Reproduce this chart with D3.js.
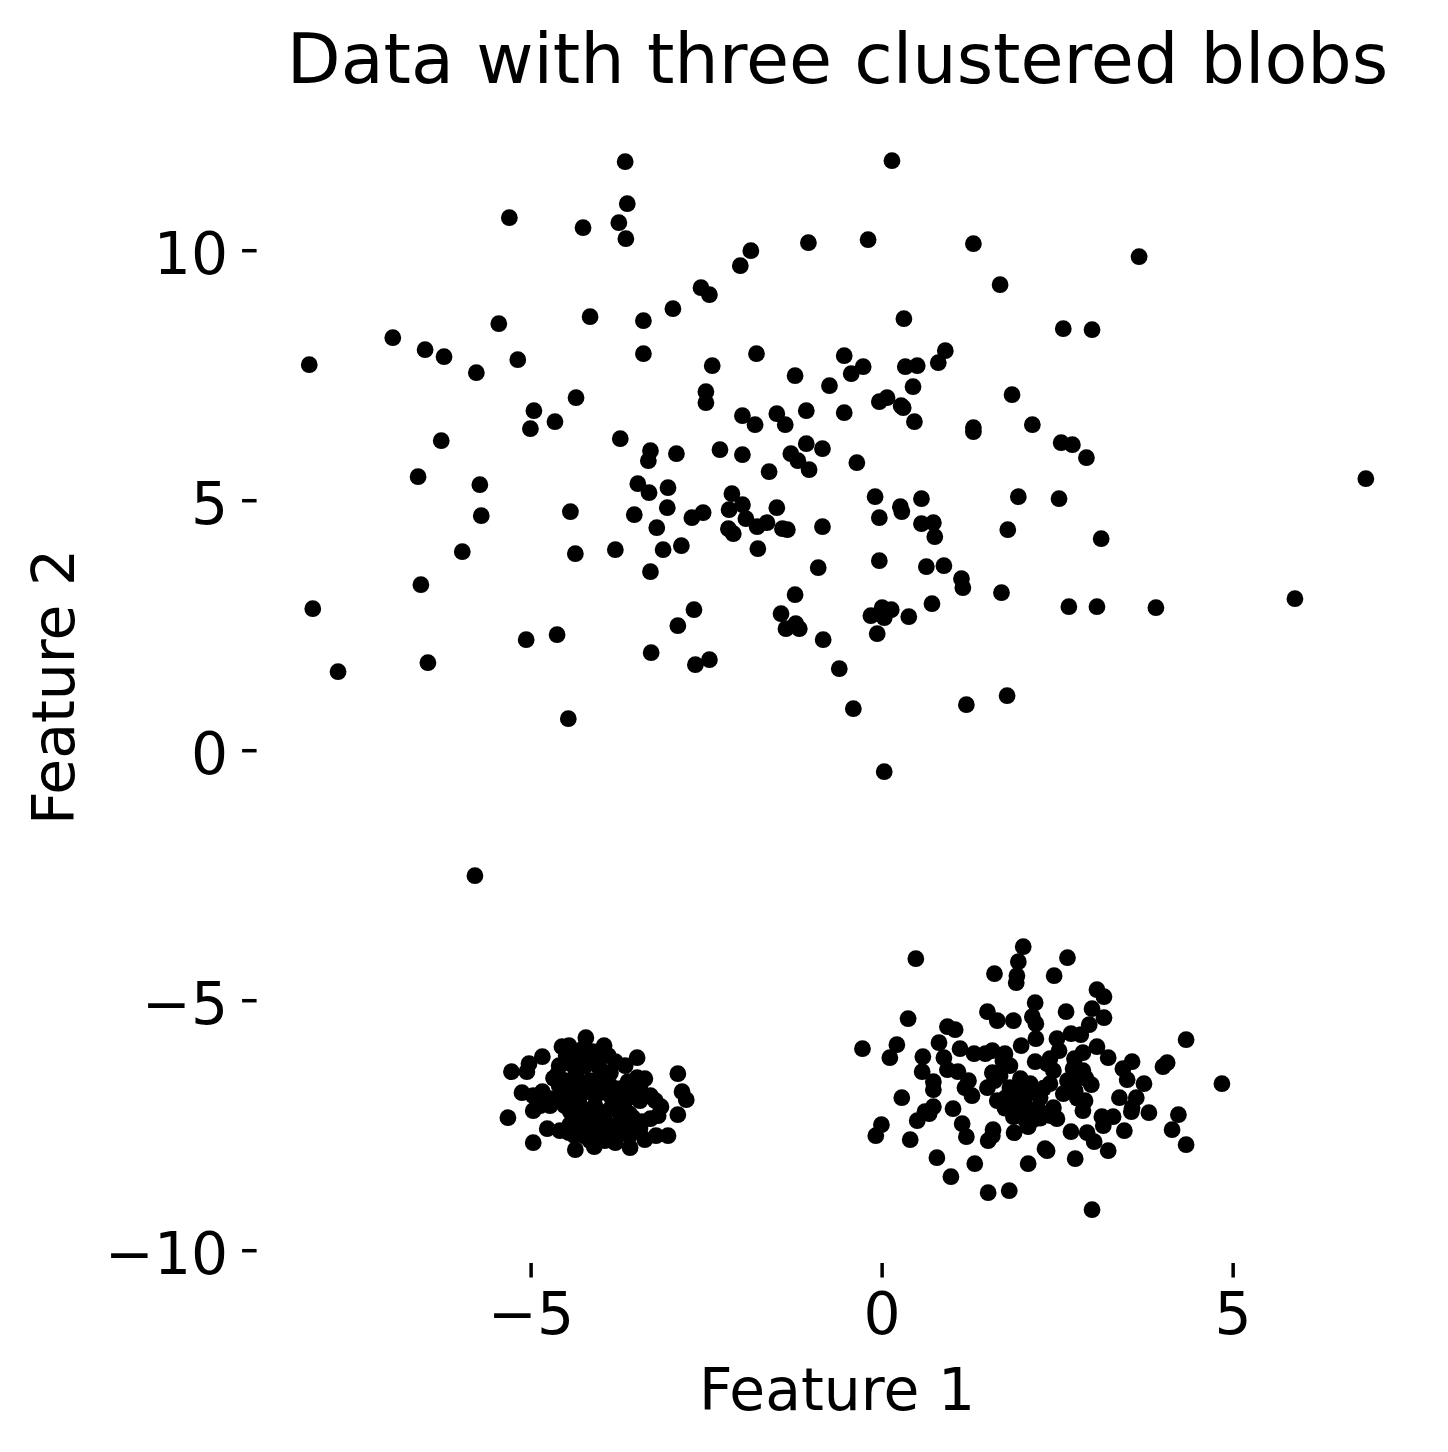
<!DOCTYPE html>
<html><head><meta charset="utf-8">
<script src="https://cdn.jsdelivr.net/npm/d3@7"></script>
<style>html,body{margin:0;padding:0;background:#fff}svg{display:block}text{font-family:"DejaVu Sans";fill:#000}</style>
</head><body><div id="c"></div>
<script>
const chartTitle = "Data with three clustered blobs";
const xLabel = "Feature 1";
const yLabel = "Feature 2";
const xTicks = [-5, 0, 5];
const yTicks = [-10, -5, 0, 5, 10];
const xDomain = [-8.91, 7.64];
const yDomain = [-10.26, 12.84];

const wideBlob = [[-8.16,7.72],[-8.11,2.84],[-7.75,1.58],[-6.97,8.26],[-6.51,8.02],[-6.24,7.88],[-6.28,6.20],[-6.61,5.48],[-6.57,3.32],[-6.47,1.76],[-5.98,3.98],[-5.78,7.56],[-5.73,5.32],[-5.71,4.70],[-5.80,-2.50],[-5.46,8.54],[-5.31,10.66],[-5.19,7.82],[-4.96,6.80],[-5.01,6.44],[-4.66,6.58],[-5.07,2.22],[-4.63,2.32],[-4.47,0.64],[-4.44,4.78],[-4.37,3.94],[-4.36,7.06],[-4.26,10.46],[-4.16,8.68],[-3.75,10.56],[-3.66,11.78],[-3.63,10.94],[-3.65,10.24],[-3.40,8.60],[-3.40,7.94],[-3.73,6.24],[-3.30,6.00],[-3.33,5.80],[-3.48,5.34],[-3.32,5.16],[-3.53,4.72],[-3.80,4.02],[-3.21,4.46],[-3.06,4.86],[-3.05,5.26],[-2.93,5.94],[-3.12,4.02],[-3.30,3.58],[-2.86,4.10],[-3.29,1.96],[-2.91,2.50],[-2.68,2.82],[-2.66,1.72],[-2.46,1.82],[-2.98,8.84],[-2.58,9.26],[-2.46,9.12],[-2.42,7.70],[-2.51,7.18],[-2.51,6.96],[-2.71,4.66],[-2.55,4.76],[-2.31,6.02],[-2.02,9.70],[-1.87,10.00],[-1.99,6.70],[-1.81,6.52],[-1.79,7.94],[-1.99,5.92],[-2.14,5.14],[-1.99,4.92],[-2.18,4.82],[-1.94,4.64],[-2.19,4.44],[-2.12,4.34],[-1.78,4.48],[-1.64,4.56],[-1.77,4.04],[-1.61,5.58],[-1.50,6.74],[-1.38,6.52],[-1.50,4.86],[-1.42,4.44],[-1.35,4.42],[-1.24,7.50],[-1.08,6.80],[-1.05,10.16],[-1.08,6.14],[-1.30,5.94],[-1.20,5.80],[-1.04,5.62],[-0.85,6.04],[-0.85,4.48],[-0.91,3.66],[-1.24,3.12],[-1.44,2.74],[-1.37,2.44],[-1.23,2.54],[-1.18,2.44],[-0.84,2.22],[-0.61,1.64],[-0.41,0.84],[-0.75,7.30],[-0.54,6.76],[-0.54,7.90],[-0.44,7.54],[-0.27,7.68],[-0.20,10.22],[-0.36,5.76],[-0.10,5.08],[-0.04,4.66],[-0.04,3.80],[-0.16,2.70],[0.00,2.86],[0.03,2.66],[0.13,2.82],[-0.07,2.34],[0.03,-0.42],[0.14,11.80],[-0.04,6.98],[0.07,7.06],[0.27,6.90],[0.30,6.86],[0.31,8.64],[0.33,7.68],[0.50,7.70],[0.44,7.28],[0.46,6.58],[0.26,4.88],[0.28,4.78],[0.56,5.04],[0.56,4.54],[0.73,4.56],[0.75,4.28],[0.38,2.68],[0.71,2.94],[0.63,3.68],[0.88,3.70],[0.80,7.76],[0.90,8.00],[1.13,3.44],[1.15,3.26],[1.20,0.92],[1.30,10.14],[1.30,6.46],[1.30,6.38],[1.68,9.32],[1.70,3.16],[1.78,1.10],[1.79,4.42],[1.85,7.12],[1.94,5.08],[2.14,6.52],[2.52,5.04],[2.55,6.16],[2.71,6.12],[2.58,8.44],[2.99,8.42],[2.91,5.86],[3.12,4.24],[2.66,2.88],[3.06,2.88],[3.66,9.88],[3.90,2.86],[5.88,3.04],[6.89,5.44]];

const rightBlob = [[0.37,-5.36],[-0.28,-5.96],[0.21,-5.88],[0.11,-6.14],[0.93,-5.52],[1.04,-5.58],[0.81,-5.84],[0.58,-6.12],[0.88,-6.14],[0.57,-6.42],[0.93,-6.38],[0.73,-6.62],[0.73,-6.78],[0.28,-6.94],[0.73,-7.12],[0.61,-7.22],[0.67,-7.26],[0.50,-7.40],[1.01,-7.16],[-0.01,-7.48],[-0.09,-7.70],[0.40,-7.78],[1.14,-7.46],[1.20,-7.72],[1.58,-7.58],[1.57,-7.70],[1.51,-7.80],[0.78,-8.14],[1.32,-8.26],[0.98,-8.52],[1.51,-8.84],[1.81,-8.80],[2.08,-8.26],[2.32,-7.96],[2.35,-8.00],[1.88,-7.64],[2.08,-7.52],[1.87,-7.32],[1.50,-5.22],[1.64,-5.40],[1.87,-5.40],[2.14,-5.32],[2.19,-5.46],[2.19,-5.76],[2.18,-5.04],[1.98,-5.90],[1.11,-5.96],[1.31,-6.06],[1.47,-6.06],[1.57,-6.00],[1.75,-6.06],[2.18,-6.22],[1.08,-6.42],[1.23,-6.60],[1.18,-6.74],[1.28,-6.90],[1.50,-6.74],[1.57,-6.44],[1.64,-7.00],[1.60,-6.60],[1.82,-6.30],[1.72,-6.20],[1.82,-6.74],[1.97,-6.56],[1.92,-7.06],[2.07,-6.86],[2.21,-7.16],[2.11,-6.66],[1.97,-6.80],[1.82,-6.96],[2.04,-7.10],[2.11,-7.24],[2.62,-5.22],[2.99,-5.16],[3.16,-5.34],[2.95,-5.48],[2.69,-5.66],[2.83,-5.68],[2.49,-5.76],[2.52,-6.00],[3.06,-5.92],[2.86,-6.04],[3.22,-6.14],[2.39,-6.16],[2.74,-6.16],[3.56,-6.22],[3.43,-6.36],[3.49,-6.58],[3.73,-6.66],[4.33,-5.78],[4.06,-6.24],[4.00,-6.32],[4.84,-6.66],[3.38,-6.94],[3.62,-6.94],[3.56,-7.14],[3.55,-7.22],[3.80,-7.24],[4.22,-7.28],[4.13,-7.58],[4.33,-7.88],[3.13,-7.32],[3.29,-7.32],[3.15,-7.50],[3.45,-7.60],[2.69,-7.62],[2.92,-7.64],[3.02,-7.82],[3.22,-8.00],[2.75,-8.16],[2.49,-7.36],[2.86,-7.20],[2.89,-7.00],[2.98,-6.68],[2.86,-6.40],[2.35,-6.26],[2.44,-6.40],[2.72,-6.36],[2.64,-6.60],[2.78,-6.54],[2.39,-6.66],[2.58,-6.86],[2.25,-6.94],[2.44,-7.14],[2.22,-7.16],[2.75,-6.80],[2.01,-3.92],[1.94,-4.22],[1.92,-4.50],[1.91,-4.64],[1.60,-4.46],[2.45,-4.50],[2.64,-4.14],[0.48,-4.16],[3.06,-4.78],[3.16,-4.92],[2.99,-9.18],[1.68,-6.50],[2.00,-7.00],[1.76,-6.94],[2.15,-6.80],[2.30,-6.75],[2.90,-6.55],[2.72,-6.78],[2.40,-7.30],[2.15,-7.38],[2.78,-6.95],[1.95,-7.25],[2.25,-7.35],[2.05,-7.40],[1.75,-7.15]];

const leftBlob = [[-4.22,-5.74],[-3.96,-5.90],[-4.56,-5.92],[-4.46,-5.90],[-4.84,-6.12],[-5.03,-6.26],[-5.06,-6.42],[-5.28,-6.42],[-3.49,-6.14],[-3.80,-6.22],[-3.66,-6.30],[-2.91,-6.46],[-5.13,-6.84],[-4.97,-6.90],[-4.84,-6.82],[-2.85,-6.82],[-2.79,-6.98],[-2.91,-7.28],[-3.19,-7.30],[-3.15,-7.12],[-5.33,-7.34],[-4.97,-7.20],[-4.97,-7.84],[-4.77,-7.56],[-4.59,-7.60],[-4.46,-7.64],[-4.37,-7.98],[-4.10,-7.92],[-3.80,-7.84],[-3.59,-7.94],[-3.38,-7.78],[-3.22,-7.70],[-3.05,-7.70],[-3.38,-6.56],[-3.49,-6.54],[-4.62,-6.46],[-4.44,-6.26],[-4.26,-5.96],[-4.06,-6.14],[-4.73,-6.96],[-4.73,-7.10],[-4.87,-7.10],[-4.59,-6.90],[-4.37,-6.20],[-4.23,-6.30],[-4.02,-6.36],[-3.87,-6.44],[-4.52,-6.60],[-4.37,-6.50],[-4.16,-6.60],[-3.95,-6.70],[-3.73,-6.76],[-3.59,-6.80],[-3.45,-6.70],[-3.30,-6.90],[-3.23,-7.00],[-3.45,-7.00],[-3.66,-7.00],[-3.87,-6.90],[-4.09,-6.90],[-4.30,-6.90],[-4.44,-6.90],[-4.52,-7.10],[-4.30,-7.10],[-4.09,-7.10],[-3.87,-7.16],[-3.66,-7.20],[-3.60,-7.26],[-3.30,-7.36],[-3.52,-7.44],[-3.73,-7.40],[-3.95,-7.40],[-4.16,-7.36],[-4.37,-7.36],[-4.30,-7.60],[-4.09,-7.60],[-3.87,-7.60],[-3.66,-7.60],[-3.45,-7.56],[-4.16,-7.80],[-3.95,-7.80],[-4.45,-6.72],[-4.22,-6.76],[-4.02,-6.84],[-3.80,-7.00],[-3.55,-6.92],[-4.60,-6.70],[-4.20,-7.22],[-4.00,-7.24],[-3.76,-7.20],[-3.55,-7.34],[-4.44,-7.22],[-4.25,-7.48],[-4.02,-7.50],[-3.80,-7.50],[-3.60,-7.46],[-4.45,-7.48],[-4.22,-7.72],[-4.02,-7.70],[-3.80,-7.70],[-3.60,-7.70],[-4.38,-7.70],[-3.42,-7.42],[-4.50,-6.10],[-4.30,-6.05],[-4.12,-6.02],[-3.90,-6.10],[-4.60,-6.30],[-4.35,-6.40],[-4.12,-6.25],[-3.95,-6.48],[-4.68,-6.55],[-4.10,-6.72],[-3.87,-6.70],[-4.30,-6.62],[-3.70,-6.88],[-3.50,-6.82],[-3.62,-6.62]];

const W = 1448, H = 1452;
const plot = {left:256.6, right:1418.5, top:108.7, bottom:1263.7};
const x = d3.scaleLinear().domain(xDomain).range([plot.left, plot.right]);
const y = d3.scaleLinear().domain(yDomain).range([plot.bottom, plot.top]);

const svg = d3.select("#c").append("svg").attr("width",W).attr("height",H).attr("viewBox",`0 0 ${W} ${H}`);

svg.append("g").selectAll("circle")
  .data([...wideBlob, ...rightBlob, ...leftBlob])
  .join("circle")
  .attr("cx",d=>x(d[0])).attr("cy",d=>y(d[1])).attr("r",8.4).attr("fill","#000");

const gx = svg.append("g").attr("transform","translate(0,1263)")
  .call(d3.axisBottom(x).tickValues(xTicks).tickSize(14.5).tickPadding(15).offset(0));
const gy = svg.append("g").attr("transform",`translate(${plot.left},0)`)
  .call(d3.axisLeft(y).tickValues(yTicks).tickSize(14.5).tickPadding(14).offset(0));
for (const g of [gx,gy]) {
  g.select(".domain").remove();
  g.selectAll(".tick line").attr("stroke","#000").attr("stroke-width",3.5);
  g.selectAll(".tick text").attr("font-size",58.33).attr("font-family","DejaVu Sans").attr("fill","#000");
}
gy.selectAll(".tick text").attr("dy","0.4em");

svg.append("text").attr("x",837.5).attr("y",83).attr("text-anchor","middle").attr("font-size",70).text(chartTitle);
svg.append("text").attr("x",837).attr("y",1410).attr("text-anchor","middle").attr("font-size",58.33).text(xLabel);
svg.append("text").attr("transform","translate(74,687) rotate(-90)").attr("text-anchor","middle").attr("font-size",58.33).text(yLabel);
</script></body></html>
